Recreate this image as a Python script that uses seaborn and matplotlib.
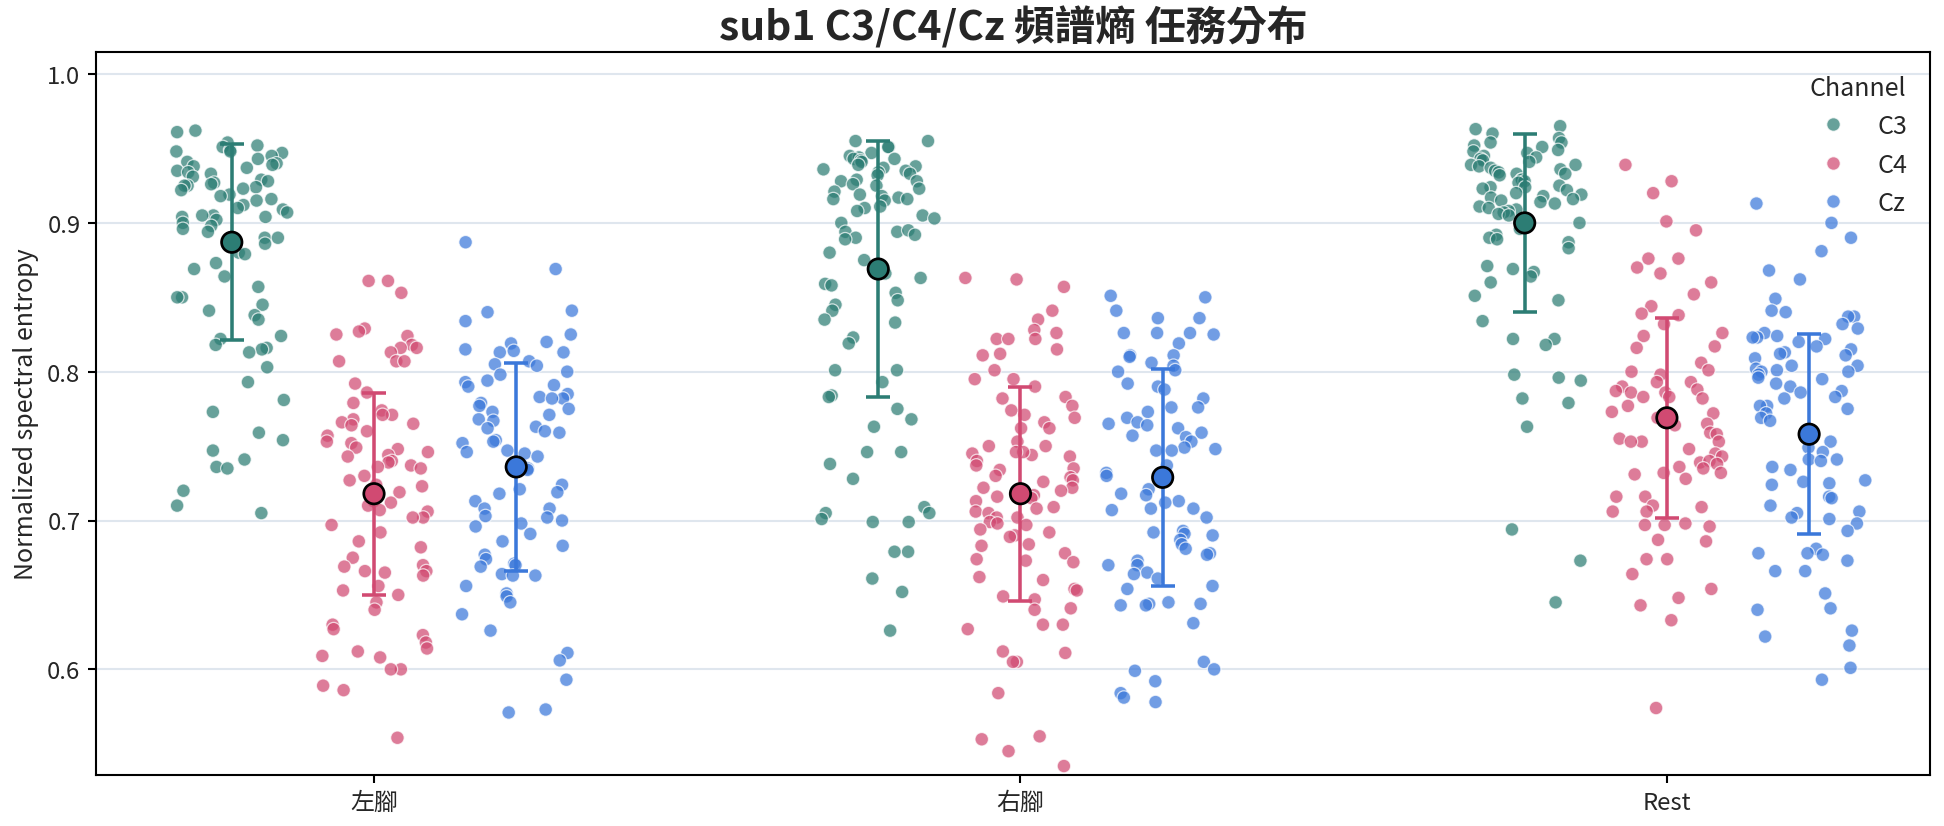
import numpy as np
import pandas as pd
import matplotlib
matplotlib.use("Agg")
import matplotlib.pyplot as plt
import seaborn as sns

# ---------------- data ----------------
tasks = ["左腳", "右腳", "Rest"]
channels = ["C3", "C4", "Cz"]

c3_left = [0.962, 0.961, 0.954, 0.952, 0.951, 0.949, 0.948, 0.948, 0.947, 0.945, 0.943, 0.941, 0.940, 0.939,
           0.938, 0.937, 0.935, 0.934, 0.933, 0.931, 0.929, 0.928, 0.927, 0.926, 0.925, 0.925, 0.924, 0.923,
           0.922, 0.919, 0.918, 0.916, 0.915, 0.912, 0.910, 0.909, 0.907, 0.905, 0.905, 0.904, 0.904, 0.902,
           0.900, 0.898, 0.896, 0.894, 0.890, 0.890, 0.886, 0.880, 0.879, 0.873, 0.869, 0.864, 0.857, 0.850,
           0.850, 0.845, 0.841, 0.838, 0.835, 0.824, 0.822, 0.818, 0.816, 0.815, 0.813, 0.803, 0.793, 0.781,
           0.773, 0.759, 0.754, 0.747, 0.741, 0.736, 0.735, 0.720, 0.710, 0.705]
c4_left = [0.861, 0.861, 0.853, 0.829, 0.827, 0.825, 0.824, 0.818, 0.816, 0.816, 0.813, 0.807, 0.807, 0.807,
           0.792, 0.786, 0.779, 0.774, 0.771, 0.771, 0.768, 0.766, 0.765, 0.764, 0.760, 0.757, 0.752, 0.753,
           0.749, 0.748, 0.746, 0.744, 0.743, 0.740, 0.739, 0.737, 0.736, 0.735, 0.730, 0.727, 0.724, 0.723,
           0.719, 0.715, 0.713, 0.712, 0.710, 0.707, 0.706, 0.702, 0.702, 0.697, 0.692, 0.686, 0.682, 0.675,
           0.670, 0.669, 0.666, 0.666, 0.665, 0.663, 0.656, 0.653, 0.650, 0.645, 0.640, 0.630, 0.627, 0.623,
           0.618, 0.614, 0.612, 0.609, 0.608, 0.600, 0.600, 0.589, 0.586, 0.554]
cz_left = [0.887, 0.869, 0.841, 0.840, 0.834, 0.825, 0.820, 0.819, 0.814, 0.813, 0.813, 0.815, 0.807, 0.805,
           0.804, 0.800, 0.798, 0.794, 0.793, 0.791, 0.790, 0.785, 0.783, 0.782, 0.782, 0.779, 0.777, 0.775,
           0.773, 0.771, 0.768, 0.767, 0.763, 0.762, 0.760, 0.759, 0.754, 0.753, 0.752, 0.747, 0.746, 0.745,
           0.743, 0.736, 0.735, 0.734, 0.724, 0.721, 0.719, 0.718, 0.713, 0.708, 0.708, 0.703, 0.702, 0.700,
           0.698, 0.696, 0.691, 0.686, 0.683, 0.677, 0.674, 0.671, 0.670, 0.669, 0.664, 0.663, 0.663, 0.656,
           0.651, 0.649, 0.645, 0.637, 0.626, 0.611, 0.606, 0.593, 0.573, 0.571]
c3_right = [0.955, 0.955, 0.951, 0.951, 0.947, 0.945, 0.944, 0.943, 0.943, 0.942, 0.941, 0.939, 0.938, 0.937,
            0.936, 0.935, 0.934, 0.933, 0.932, 0.929, 0.928, 0.928, 0.926, 0.925, 0.923, 0.921, 0.919, 0.918,
            0.917, 0.916, 0.916, 0.915, 0.911, 0.910, 0.908, 0.905, 0.903, 0.900, 0.894, 0.894, 0.895, 0.892,
            0.890, 0.889, 0.880, 0.875, 0.866, 0.863, 0.859, 0.858, 0.853, 0.848, 0.845, 0.841, 0.835, 0.833,
            0.823, 0.819, 0.801, 0.801, 0.793, 0.784, 0.783, 0.775, 0.768, 0.763, 0.746, 0.746, 0.738, 0.728,
            0.709, 0.705, 0.705, 0.701, 0.699, 0.699, 0.679, 0.679, 0.661, 0.652, 0.626]
c4_right = [0.863, 0.862, 0.857, 0.841, 0.835, 0.828, 0.826, 0.822, 0.822, 0.822, 0.815, 0.812, 0.811, 0.801,
            0.795, 0.795, 0.790, 0.783, 0.782, 0.777, 0.774, 0.771, 0.769, 0.766, 0.762, 0.762, 0.753, 0.750,
            0.750, 0.745, 0.744, 0.746, 0.746, 0.740, 0.743, 0.737, 0.735, 0.734, 0.730, 0.729, 0.727, 0.726,
            0.722, 0.722, 0.720, 0.717, 0.716, 0.715, 0.713, 0.709, 0.708, 0.706, 0.705, 0.702, 0.702, 0.699,
            0.698, 0.697, 0.694, 0.692, 0.690, 0.689, 0.684, 0.683, 0.678, 0.674, 0.673, 0.672, 0.662, 0.660,
            0.654, 0.653, 0.649, 0.647, 0.641, 0.640, 0.630, 0.630, 0.627, 0.612, 0.611, 0.605, 0.605, 0.584,
            0.553, 0.555, 0.545, 0.535]
cz_right = [0.851, 0.850, 0.841, 0.836, 0.836, 0.826, 0.826, 0.826, 0.825, 0.819, 0.811, 0.811, 0.810, 0.806,
            0.804, 0.801, 0.800, 0.792, 0.790, 0.788, 0.782, 0.776, 0.776, 0.773, 0.769, 0.766, 0.765, 0.764,
            0.762, 0.759, 0.757, 0.756, 0.753, 0.749, 0.748, 0.747, 0.747, 0.737, 0.732, 0.730, 0.728, 0.721,
            0.718, 0.717, 0.713, 0.712, 0.708, 0.708, 0.707, 0.702, 0.693, 0.692, 0.691, 0.690, 0.687, 0.684,
            0.681, 0.678, 0.677, 0.673, 0.670, 0.670, 0.665, 0.664, 0.661, 0.656, 0.654, 0.644, 0.644, 0.643,
            0.643, 0.645, 0.631, 0.605, 0.599, 0.600, 0.592, 0.584, 0.581, 0.578]
c3_rest = [0.965, 0.963, 0.960, 0.957, 0.954, 0.954, 0.952, 0.951, 0.949, 0.948, 0.947, 0.945, 0.944, 0.943,
           0.942, 0.941, 0.939, 0.939, 0.938, 0.937, 0.936, 0.935, 0.934, 0.933, 0.933, 0.932, 0.929, 0.929,
           0.928, 0.927, 0.925, 0.924, 0.924, 0.923, 0.922, 0.920, 0.919, 0.918, 0.917, 0.916, 0.915, 0.914,
           0.913, 0.911, 0.910, 0.909, 0.908, 0.907, 0.906, 0.905, 0.900, 0.900, 0.896, 0.892, 0.890, 0.889,
           0.887, 0.883, 0.871, 0.869, 0.867, 0.864, 0.860, 0.851, 0.848, 0.834, 0.822, 0.822, 0.818, 0.798,
           0.796, 0.794, 0.782, 0.779, 0.763, 0.694, 0.673, 0.645]
c4_rest = [0.939, 0.928, 0.920, 0.901, 0.895, 0.876, 0.876, 0.870, 0.866, 0.860, 0.852, 0.844, 0.839, 0.838,
           0.832, 0.826, 0.824, 0.817, 0.816, 0.806, 0.801, 0.800, 0.798, 0.793, 0.793, 0.790, 0.788, 0.786,
           0.786, 0.787, 0.783, 0.783, 0.782, 0.777, 0.773, 0.772, 0.769, 0.765, 0.764, 0.759, 0.758, 0.755,
           0.753, 0.753, 0.753, 0.748, 0.745, 0.743, 0.739, 0.740, 0.738, 0.736, 0.735, 0.732, 0.732, 0.731,
           0.728, 0.716, 0.716, 0.710, 0.709, 0.706, 0.706, 0.697, 0.698, 0.696, 0.697, 0.686, 0.687, 0.674,
           0.674, 0.664, 0.654, 0.648, 0.643, 0.633, 0.574]
cz_rest = [0.913, 0.900, 0.890, 0.881, 0.868, 0.862, 0.849, 0.841, 0.840, 0.837, 0.837, 0.832, 0.829, 0.826,
           0.824, 0.823, 0.823, 0.822, 0.820, 0.817, 0.815, 0.813, 0.812, 0.811, 0.809, 0.804, 0.804, 0.802,
           0.801, 0.800, 0.800, 0.798, 0.796, 0.795, 0.792, 0.790, 0.787, 0.786, 0.783, 0.782, 0.777, 0.777,
           0.775, 0.772, 0.769, 0.767, 0.760, 0.753, 0.749, 0.746, 0.741, 0.741, 0.740, 0.736, 0.734, 0.727,
           0.726, 0.725, 0.724, 0.716, 0.715, 0.710, 0.706, 0.705, 0.702, 0.701, 0.698, 0.693, 0.681, 0.678,
           0.678, 0.677, 0.673, 0.666, 0.666, 0.651, 0.641, 0.640, 0.626, 0.622, 0.616, 0.601, 0.593]

# summary (mean ± SD), rows = tasks, cols = channels
mean_c3 = [0.887, 0.869, 0.900]
mean_c4 = [0.718, 0.718, 0.769]
mean_cz = [0.736, 0.729, 0.758]
sd_c3 = [0.066, 0.086, 0.060]
sd_c4 = [0.068, 0.072, 0.067]
sd_cz = [0.070, 0.073, 0.067]

# ---------------- build tables ----------------
groups = {
    ("左腳", "C3"): c3_left, ("左腳", "C4"): c4_left, ("左腳", "Cz"): cz_left,
    ("右腳", "C3"): c3_right, ("右腳", "C4"): c4_right, ("右腳", "Cz"): cz_right,
    ("Rest", "C3"): c3_rest, ("Rest", "C4"): c4_rest, ("Rest", "Cz"): cz_rest,
}
DODGE = 0.22
rows = []
for (t, ch), vals in groups.items():
    pos = tasks.index(t) + (channels.index(ch) - 1) * DODGE
    for v in vals:
        rows.append({"Task": t, "Channel": ch, "pos": pos, "value": v})
df = pd.DataFrame(rows)

means = {"C3": mean_c3, "C4": mean_c4, "Cz": mean_cz}
sds = {"C3": sd_c3, "C4": sd_c4, "Cz": sd_cz}
srows = []
for ch in channels:
    for i, t in enumerate(tasks):
        srows.append({"Task": t, "Channel": ch, "pos": i + (channels.index(ch) - 1) * DODGE,
                      "mean": means[ch][i], "sd": sds[ch][i]})
summ = pd.DataFrame(srows)

# ---------------- style ----------------
sns.set_style("ticks")
plt.rcParams["font.family"] = ["Noto Sans CJK TC", "DejaVu Sans"]
plt.rcParams["axes.unicode_minus"] = False

palette = {"C3": "#2c7d74", "C4": "#d14a72", "Cz": "#3b78da"}

fig, ax = plt.subplots(figsize=(12.96, 5.513), dpi=150)
fig.subplots_adjust(left=0.0494, right=0.9928, top=0.9359, bottom=0.0617)

np.random.seed(11)
sns.stripplot(data=df, x="pos", y="value", hue="Channel", hue_order=channels,
              palette=palette, native_scale=True, orient="x", jitter=0.40,
              size=6.5, alpha=0.72, edgecolor="white", linewidth=0.6, ax=ax, zorder=2)

for ch in channels:
    sub = summ[summ["Channel"] == ch]
    ax.errorbar(sub["pos"], sub["mean"], yerr=sub["sd"], fmt="none",
                ecolor=palette[ch], elinewidth=1.7, capsize=5.9, capthick=1.7, zorder=3)

sns.scatterplot(data=summ, x="pos", y="mean", hue="Channel", hue_order=channels,
                palette=palette, s=9.8 ** 2, edgecolor="black", linewidth=1.3,
                legend=False, ax=ax, zorder=4)

# ---------------- axes ----------------
ax.set_xlim(-0.43, 2.407)
ax.set_ylim(0.529, 1.0148)
ax.set_xticks(range(len(tasks)))
ax.set_xticklabels(tasks)
ax.set_yticks([0.6, 0.7, 0.8, 0.9, 1.0])
ax.set_yticklabels(["0.6", "0.7", "0.8", "0.9", "1.0"])
ax.tick_params(axis="both", labelsize=11.5, length=4, width=1, color="black")
ax.set_xlabel("")
ax.set_ylabel("Normalized spectral entropy", fontsize=12)
ax.set_title("sub1 C3/C4/Cz 頻譜熵 任務分布", fontsize=19.5, fontweight="bold")

ax.yaxis.grid(True, color="#dfe6ee", linewidth=1.0)
ax.xaxis.grid(False)
ax.set_axisbelow(True)
for sp in ax.spines.values():
    sp.set_visible(True)
    sp.set_color("black")
    sp.set_linewidth(1.0)

sns.move_legend(ax, "upper right", title="Channel", frameon=False,
                fontsize=12, title_fontsize=12)

fig.savefig("out.png", dpi=150)
